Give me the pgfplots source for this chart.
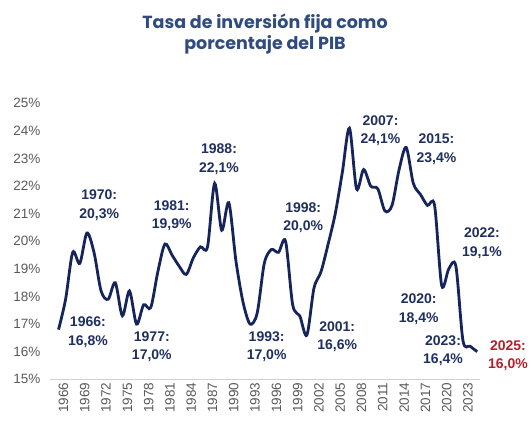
\documentclass[border=0pt]{standalone}
\usepackage{pgfplots}
\pgfplotsset{compat=1.18}
\usepackage{fontspec}
\setmainfont{Liberation Sans}
\newfontfamily\titlefont{Poppins}[BoldFont={Poppins Bold}]
\definecolor{titleblue}{HTML}{2F4B7F}
\definecolor{linenavy}{HTML}{15245A}
\definecolor{lblnavy}{HTML}{1F2F60}
\definecolor{lblred}{HTML}{B3202A}
\definecolor{tickgray}{HTML}{595959}
\pgfplotstableread{
year val
1966 16.8
1967 17.9
1968 19.6
1969 19.2
1970 20.3
1971 19.6
1972 18.2
1973 17.9
1974 18.5
1975 17.3
1976 18.2
1977 17.0
1978 17.7
1979 17.6
1980 18.9
1981 19.9
1982 19.5
1983 19.1
1984 18.8
1985 19.4
1986 19.8
1987 19.8
1988 22.1
1989 20.4
1990 21.4
1991 19.3
1992 17.8
1993 17.0
1994 17.4
1995 19.2
1996 19.7
1997 19.6
1998 20.0
1999 17.7
2000 17.3
2001 16.6
2002 18.3
2003 18.9
2004 19.9
2005 21.0
2006 22.5
2007 24.1
2008 21.9
2009 22.6
2010 22.0
2011 21.9
2012 21.1
2013 21.3
2014 22.6
2015 23.4
2016 22.1
2017 21.7
2018 21.3
2019 21.3
2020 18.4
2021 19.0
2022 19.1
2023 16.4
2024 16.2
2025 16.0
}\datatable
\begin{document}
\begin{tikzpicture}
\useasboundingbox (-50bp,-44.7bp) rectangle (481bp,379.3bp);
\node[align=center, text=titleblue, font=\titlefont\bfseries\fontsize{17.5bp}{21bp}\selectfont] at (215bp,345.3bp) {Tasa de inversión fija como\\porcentaje del PIB};
\begin{axis}[
  at={(0,0)}, anchor=south west,
  scale only axis, width=430bp, height=276bp,
  xmin=1964.8, xmax=2025.4, ymin=15, ymax=25,
  axis x line*=bottom, axis y line*=left,
  y axis line style={draw=none},
  x axis line style={draw=black!18, line width=0.8bp},
  major tick length=0pt,
  xtick={1966,1969,1972,1975,1978,1981,1984,1987,1990,1993,1996,1999,2002,2005,2008,2011,2014,2017,2020,2023},
  xticklabels={1966,1969,1972,1975,1978,1981,1984,1987,1990,1993,1996,1999,2002,2005,2008,2011,2014,2017,2020,2023},
  ytick={15,16,...,25},
  yticklabels={15\%,16\%,17\%,18\%,19\%,20\%,21\%,22\%,23\%,24\%,25\%},
  tick label style={font=\fontsize{13.5bp}{15bp}\selectfont, text=tickgray},
  xticklabel style={rotate=90, anchor=east, xshift=0bp, yshift=-5bp},
  yticklabel style={anchor=east, xshift=-6bp},
  clip=false,
]
\addplot[linenavy, line width=2.8bp, smooth, tension=0.5] table[x=year,y=val] {\datatable};
\begin{scope}[every node/.style={align=center, font=\bfseries\fontsize{14bp}{18.5bp}\selectfont, text=lblnavy}]
\node at (axis cs:1970.14,16.71) {1966:\\16,8\%};
\node at (axis cs:1971.73,21.30) {1970:\\20,3\%};
\node at (axis cs:1979.15,16.18) {1977:\\17,0\%};
\node at (axis cs:1981.96,20.92) {1981:\\19,9\%};
\node at (axis cs:1988.62,22.97) {1988:\\22,1\%};
\node at (axis cs:1995.33,16.18) {1993:\\17,0\%};
\node at (axis cs:2000.48,20.86) {1998:\\20,0\%};
\node at (axis cs:2005.27,16.54) {2001:\\16,6\%};
\node at (axis cs:2011.38,24.01) {2007:\\24,1\%};
\node at (axis cs:2019.26,23.34) {2015:\\23,4\%};
\node at (axis cs:2025.68,19.93) {2022:\\19,1\%};
\node at (axis cs:2016.77,17.54) {2020:\\18,4\%};
\node at (axis cs:2020.19,16.04) {2023:\\16,4\%};
\node[text=lblred] at (axis cs:2029.34,15.85) {2025:\\16,0\%};
\end{scope}
\end{axis}
\end{tikzpicture}
\end{document}
